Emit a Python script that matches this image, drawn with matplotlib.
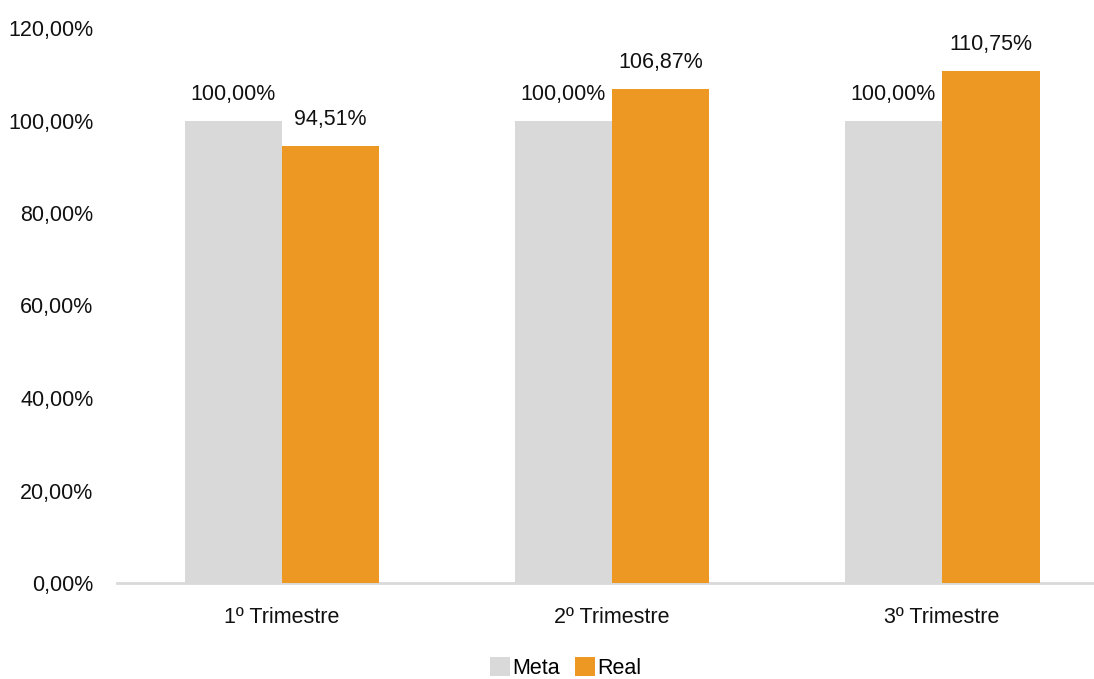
import matplotlib.pyplot as plt
import numpy as np

plt.rcParams['font.family'] = ['Liberation Sans', 'DejaVu Sans']

trimestres = ['1º Trimestre', '2º Trimestre', '3º Trimestre']
meta = [100.00, 100.00, 100.00]
real = [94.51, 106.87, 110.75]
yticks = [0, 20, 40, 60, 80, 100, 120]

cor_meta = '#D9D9D9'
cor_real = '#ED9822'
fs = 15.5

def fmt(v):
    return f'{v:.2f}'.replace('.', ',') + '%'

fig = plt.figure(figsize=(10.94, 6.79), dpi=100)
ax = fig.add_axes([117 / 1094, (679 - 583) / 679, 1 - 117 / 1094, (583 - 28) / 679])

x = np.arange(len(trimestres))
w = 0.295
b1 = ax.bar(x - w / 2, meta, w, color=cor_meta, label='Meta', zorder=3)
b2 = ax.bar(x + w / 2, real, w, color=cor_real, label='Real', zorder=3)

for bars, vals in ((b1, meta), (b2, real)):
    for r, v in zip(bars, vals):
        ax.text(r.get_x() + r.get_width() / 2, v + 3.4, fmt(v),
                ha='center', va='bottom', fontsize=fs, color='#111111')

ax.set_xlim(-0.5, 2.46)
ax.set_ylim(0, 120)
ax.set_yticks(yticks)
ax.set_yticklabels([fmt(t) for t in yticks])
ax.set_xticks(x)
ax.set_xticklabels(trimestres)
ax.tick_params(axis='both', length=0, labelsize=fs, colors='#111111')
ax.tick_params(axis='y', pad=17)
ax.tick_params(axis='x', pad=17)

for s in ['top', 'right', 'left']:
    ax.spines[s].set_visible(False)
ax.spines['bottom'].set_color('#D9D9D9')
ax.spines['bottom'].set_linewidth(2)
ax.spines['bottom'].set_zorder(2)

fig.legend(handles=[b1, b2], labels=['Meta', 'Real'], loc='lower center',
           bbox_to_anchor=(0.517, -0.028), ncol=2, frameon=False,
           fontsize=fs, handlelength=0.95, handleheight=0.95,
           handletextpad=0.1, columnspacing=0.7)

fig.savefig('out.png', dpi=100)
